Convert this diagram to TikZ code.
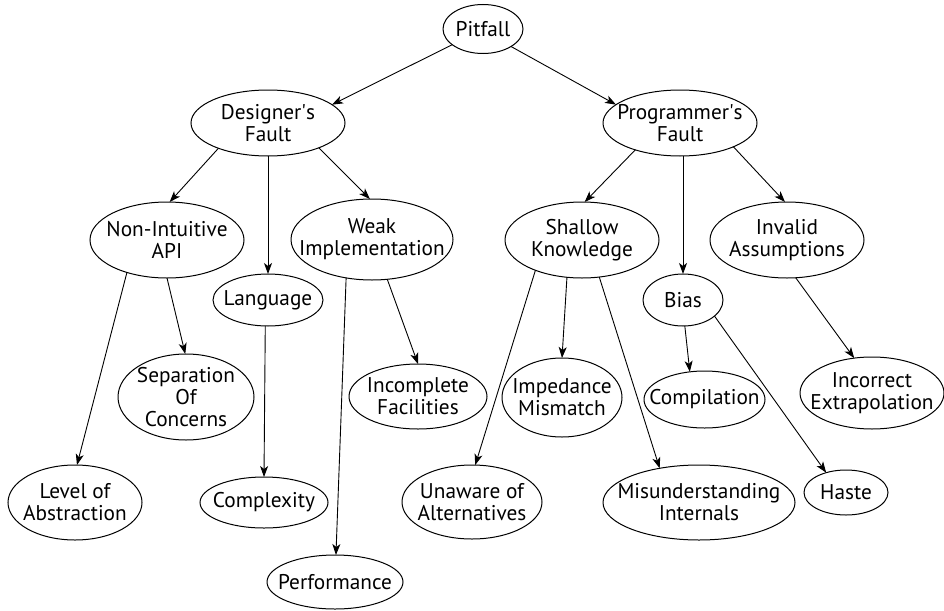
\documentclass[tikz,border=0pt]{standalone}
\usepackage{fontspec}
\setmainfont{PT Sans}
\usetikzlibrary{arrows.meta,shapes.geometric}
\tikzset{
  ell/.style 2 args={ellipse, draw, line width=1pt, minimum width=#1pt, minimum height=#2pt, inner sep=0pt, outer sep=0pt},
  lbl/.style={align=center, inner sep=0pt, font=\fontsize{21.3}{22}\selectfont},
  edge/.style={line width=0.9pt, -{Stealth[length=11pt, width=8pt, inset=3pt]}}
}
\begin{document}
\begin{tikzpicture}[x=1pt, y=-1pt]
\useasboundingbox (0,0) rectangle (944,610);
% level 0
\node[ell={80}{49}, label={[lbl]center:Pitfall}] (pf) at (483,29) {};
% level 1
\node[ell={154}{66}, label={[lbl]center:{Designer\textquotesingle s\\Fault}}] (df) at (268,123) {};
\node[ell={154}{66}, label={[lbl]center:{Programmer\textquotesingle s\\Fault}}] (pgf) at (680,123) {};
% level 2
\node[ell={154}{76}, label={[lbl]center:{Non-Intuitive\\API}}] (ni) at (167,240) {};
\node[ell={110}{52}, label={[lbl]center:Language}] (lang) at (268,300) {};
\node[ell={162}{81}, label={[lbl]center:{Weak\\Implementation}}] (wi) at (372,239.5) {};
\node[ell={154}{76}, label={[lbl]center:{Shallow\\Knowledge}}] (sk) at (582,240) {};
\node[ell={80}{52}, label={[lbl]center:Bias}] (bias) at (683,300) {};
\node[ell={154}{76}, label={[lbl]center:{Invalid\\Assumptions}}] (ia) at (787,240) {};
% level 3
\node[ell={136}{86}, label={[lbl]center:{Separation\\Of\\Concerns}}] (soc) at (186,397) {};
\node[ell={138}{65}, label={[lbl]center:{Incomplete\\Facilities}}] (inc) at (418,396.5) {};
\node[ell={120}{79}, label={[lbl]center:{Impedance\\Mismatch}}] (im) at (562,397.5) {};
\node[ell={121}{57}, label={[lbl]center:Compilation}] (comp) at (704.5,399.5) {};
\node[ell={144}{72}, label={[lbl]center:{Incorrect\\Extrapolation}}] (ie) at (872,393) {};
% level 4
\node[ell={134}{75}, label={[lbl]center:{Level of\\Abstraction}}] (loa) at (75,502.5) {};
\node[ell={128}{51}, label={[lbl]center:Complexity}] (cx) at (264,502.5) {};
\node[ell={140}{74}, label={[lbl]center:{Unaware of\\Alternatives}}] (ua) at (472,502) {};
\node[ell={192}{75}, label={[lbl]center:{Misunderstanding\\Internals}}] (mi) at (699,502.5) {};
\node[ell={84}{45}, label={[lbl]center:Haste}] (haste) at (846,492.5) {};
\node[ell={136}{54}, label={[lbl]center:Performance}] (perf) at (335,582) {};
% edges
\draw[edge] (pf.207) -- (df.16);
\draw[edge] (pf.328) -- (pgf.164);
\draw[edge] (df.207) -- (ni.86);
\draw[edge] (df.south) -- (lang.north);
\draw[edge] (df.334) -- (wi.93);
\draw[edge] (ni.219) -- (loa.87);
\draw[edge] (ni.270) -- (soc.91);
\draw[edge] (lang.264) -- (cx.north);
\draw[edge] (wi.236) -- (perf.88);
\draw[edge] (wi.291) -- (inc.90);
\draw[edge] (pgf.211) -- (sk.86);
\draw[edge] (bias.north |- pgf.south) -- (bias.north);
\draw[edge] (pgf.336) -- (ia.93);
\draw[edge] (sk.213) -- (ua.85);
\draw[edge] (sk.248) -- (im.90);
\draw[edge] (sk.295) -- (mi.139);
\draw[edge] (bias.274) -- (comp.118);
\draw[edge] (bias.333) -- (haste.135);
\draw[edge] (ia.283) -- (ie.117);
\end{tikzpicture}
\end{document}
